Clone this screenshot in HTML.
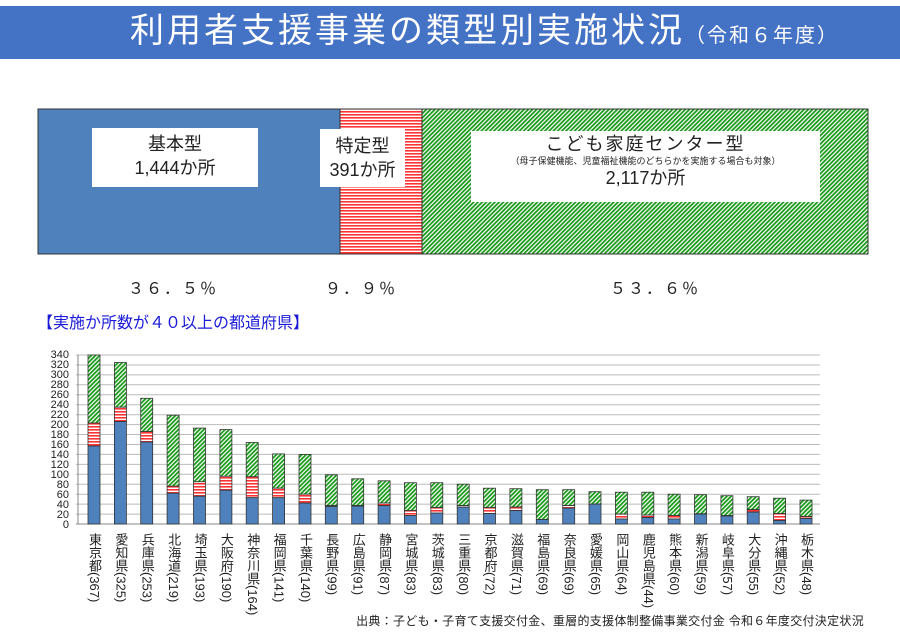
<!DOCTYPE html>
<html><head><meta charset="utf-8"><style>
body{margin:0;background:#fff;}
#w{position:relative;width:900px;height:643px;overflow:hidden;font-family:"Liberation Sans","Noto Sans CJK JP",sans-serif;}
.lb{position:absolute;top:533px;writing-mode:vertical-rl;font-size:13px;line-height:14px;color:#222;width:14px;}
.t{position:absolute;white-space:nowrap;}
</style></head><body><div id="w">
<div style="position:absolute;left:0;top:6px;width:900px;height:53px;background:#4472C4;"></div>
<div class="t" style="left:130px;top:9px;font-size:34px;color:#fff;line-height:44px;letter-spacing:3px;">利用者支援事業の類型別実施状況<span style="font-size:20px;letter-spacing:2px;">（令和６年度）</span></div>
<svg width="900" height="643" style="position:absolute;left:0;top:0">
<defs>
<pattern id="rp" width="3" height="3" patternUnits="userSpaceOnUse"><rect width="3" height="3" fill="#fff"/><rect width="3" height="1.6" fill="#f33"/></pattern>
<pattern id="gp" width="3" height="3" patternUnits="userSpaceOnUse" patternTransform="rotate(45)"><rect width="3" height="3" fill="#fff"/><rect width="1.8" height="3" fill="#1a9a1a"/></pattern>
<pattern id="rp2" width="3" height="3" patternUnits="userSpaceOnUse"><rect width="3" height="3" fill="#fff"/><rect width="3" height="1.6" fill="#f33"/></pattern>
</defs>
<rect x="38" y="109" width="302" height="145" fill="#4F81BD" stroke="#333"/>
<rect x="340" y="109" width="82" height="145" fill="url(#rp)" stroke="#333"/>
<rect x="422" y="109" width="446" height="145" fill="url(#gp)" stroke="#333"/>
<rect x="92" y="128" width="166" height="59" fill="#fff"/>
<rect x="320" y="129" width="85" height="58" fill="#fff"/>
<rect x="471" y="131" width="349" height="71" fill="#fff"/>
<g stroke="#bbb" stroke-width="1">
<line x1="76" x2="820" y1="514.1" y2="514.1"/><line x1="76" x2="820" y1="504.1" y2="504.1"/><line x1="76" x2="820" y1="494.2" y2="494.2"/><line x1="76" x2="820" y1="484.2" y2="484.2"/><line x1="76" x2="820" y1="474.3" y2="474.3"/><line x1="76" x2="820" y1="464.4" y2="464.4"/><line x1="76" x2="820" y1="454.4" y2="454.4"/><line x1="76" x2="820" y1="444.5" y2="444.5"/><line x1="76" x2="820" y1="434.5" y2="434.5"/><line x1="76" x2="820" y1="424.6" y2="424.6"/><line x1="76" x2="820" y1="414.7" y2="414.7"/><line x1="76" x2="820" y1="404.7" y2="404.7"/><line x1="76" x2="820" y1="394.8" y2="394.8"/><line x1="76" x2="820" y1="384.8" y2="384.8"/><line x1="76" x2="820" y1="374.9" y2="374.9"/><line x1="76" x2="820" y1="365" y2="365"/><line x1="76" x2="820" y1="355" y2="355"/>
</g>
<line x1="78" x2="78" y1="355" y2="524" stroke="#888"/>
<line x1="76" x2="820" y1="524" y2="524" stroke="#888"/>
<g font-size="11" fill="#222" text-anchor="end">
<text x="69" y="528">0</text><text x="69" y="518">20</text><text x="69" y="508">40</text><text x="69" y="498">60</text><text x="69" y="488">80</text><text x="69" y="478">100</text><text x="69" y="468">120</text><text x="69" y="458">140</text><text x="69" y="448">160</text><text x="69" y="438">180</text><text x="69" y="428">200</text><text x="69" y="418">220</text><text x="69" y="408">240</text><text x="69" y="398">260</text><text x="69" y="388">280</text><text x="69" y="378">300</text><text x="69" y="368">320</text><text x="69" y="358">340</text>
</g>
<g stroke="#333" stroke-width="0.8">
<rect x="88" y="355" width="12" height="68.1" fill="url(#gp)"/><rect x="88" y="423.1" width="12" height="22.9" fill="url(#rp2)"/><rect x="88" y="446" width="12" height="78" fill="#4F81BD"/>
<rect x="114.4" y="362.5" width="12" height="44.7" fill="url(#gp)"/><rect x="114.4" y="407.2" width="12" height="14.4" fill="url(#rp2)"/><rect x="114.4" y="421.6" width="12" height="102.4" fill="#4F81BD"/>
<rect x="140.7" y="398.3" width="12" height="33.3" fill="url(#gp)"/><rect x="140.7" y="431.6" width="12" height="10.4" fill="url(#rp2)"/><rect x="140.7" y="442" width="12" height="82" fill="#4F81BD"/>
<rect x="167.1" y="415.2" width="12" height="71" fill="url(#gp)"/><rect x="167.1" y="486.2" width="12" height="7" fill="url(#rp2)"/><rect x="167.1" y="493.2" width="12" height="30.8" fill="#4F81BD"/>
<rect x="193.5" y="428.1" width="12" height="53.7" fill="url(#gp)"/><rect x="193.5" y="481.8" width="12" height="14.4" fill="url(#rp2)"/><rect x="193.5" y="496.2" width="12" height="27.8" fill="#4F81BD"/>
<rect x="219.9" y="429.6" width="12" height="46.7" fill="url(#gp)"/><rect x="219.9" y="476.3" width="12" height="13.9" fill="url(#rp2)"/><rect x="219.9" y="490.2" width="12" height="33.8" fill="#4F81BD"/>
<rect x="246.2" y="442.5" width="12" height="34.3" fill="url(#gp)"/><rect x="246.2" y="476.8" width="12" height="20.9" fill="url(#rp2)"/><rect x="246.2" y="497.7" width="12" height="26.3" fill="#4F81BD"/>
<rect x="272.6" y="453.9" width="12" height="34.3" fill="url(#gp)"/><rect x="272.6" y="488.2" width="12" height="9.5" fill="url(#rp2)"/><rect x="272.6" y="497.7" width="12" height="26.3" fill="#4F81BD"/>
<rect x="299" y="454.4" width="12" height="39.8" fill="url(#gp)"/><rect x="299" y="494.2" width="12" height="8.9" fill="url(#rp2)"/><rect x="299" y="503.1" width="12" height="20.9" fill="#4F81BD"/>
<rect x="325.3" y="474.8" width="12" height="30.8" fill="url(#gp)"/><rect x="325.3" y="505.6" width="12" height="1" fill="url(#rp2)"/><rect x="325.3" y="506.6" width="12" height="17.4" fill="#4F81BD"/>
<rect x="351.7" y="478.8" width="12" height="26.8" fill="url(#gp)"/><rect x="351.7" y="505.6" width="12" height="0.5" fill="url(#rp2)"/><rect x="351.7" y="506.1" width="12" height="17.9" fill="#4F81BD"/>
<rect x="378.1" y="480.8" width="12" height="22.3" fill="url(#gp)"/><rect x="378.1" y="503.1" width="12" height="2.5" fill="url(#rp2)"/><rect x="378.1" y="505.6" width="12" height="18.4" fill="#4F81BD"/>
<rect x="404.4" y="482.7" width="12" height="27.9" fill="url(#gp)"/><rect x="404.4" y="510.6" width="12" height="5" fill="url(#rp2)"/><rect x="404.4" y="515.6" width="12" height="8.4" fill="#4F81BD"/>
<rect x="430.8" y="482.7" width="12" height="24.9" fill="url(#gp)"/><rect x="430.8" y="507.6" width="12" height="5.5" fill="url(#rp2)"/><rect x="430.8" y="513.1" width="12" height="10.9" fill="#4F81BD"/>
<rect x="457.2" y="484.2" width="12" height="21.4" fill="url(#gp)"/><rect x="457.2" y="505.6" width="12" height="1.5" fill="url(#rp2)"/><rect x="457.2" y="507.1" width="12" height="16.9" fill="#4F81BD"/>
<rect x="483.5" y="488.2" width="12" height="19.4" fill="url(#gp)"/><rect x="483.5" y="507.6" width="12" height="6" fill="url(#rp2)"/><rect x="483.5" y="513.6" width="12" height="10.4" fill="#4F81BD"/>
<rect x="509.9" y="488.7" width="12" height="18.4" fill="url(#gp)"/><rect x="509.9" y="507.1" width="12" height="3.5" fill="url(#rp2)"/><rect x="509.9" y="510.6" width="12" height="13.4" fill="#4F81BD"/>
<rect x="536.3" y="489.7" width="12" height="29.8" fill="url(#gp)"/><rect x="536.3" y="519.5" width="12" height="4.5" fill="#4F81BD"/>
<rect x="562.7" y="489.7" width="12" height="15.9" fill="url(#gp)"/><rect x="562.7" y="505.6" width="12" height="2.5" fill="url(#rp2)"/><rect x="562.7" y="508.1" width="12" height="15.9" fill="#4F81BD"/>
<rect x="589" y="491.7" width="12" height="12.4" fill="url(#gp)"/><rect x="589" y="504.1" width="12" height="19.9" fill="#4F81BD"/>
<rect x="615.4" y="492.2" width="12" height="21.9" fill="url(#gp)"/><rect x="615.4" y="514.1" width="12" height="4.9" fill="url(#rp2)"/><rect x="615.4" y="519" width="12" height="5" fill="#4F81BD"/>
<rect x="641.8" y="492.2" width="12" height="22.9" fill="url(#gp)"/><rect x="641.8" y="515.1" width="12" height="2.4" fill="url(#rp2)"/><rect x="641.8" y="517.5" width="12" height="6.5" fill="#4F81BD"/>
<rect x="668.1" y="494.2" width="12" height="21.4" fill="url(#gp)"/><rect x="668.1" y="515.6" width="12" height="3.4" fill="url(#rp2)"/><rect x="668.1" y="519" width="12" height="5" fill="#4F81BD"/>
<rect x="694.5" y="494.7" width="12" height="19.1" fill="url(#gp)"/><rect x="694.5" y="513.8" width="12" height="0.3" fill="url(#rp2)"/><rect x="694.5" y="514.1" width="12" height="9.9" fill="#4F81BD"/>
<rect x="720.9" y="495.7" width="12" height="19.9" fill="url(#gp)"/><rect x="720.9" y="515.6" width="12" height="0.4" fill="url(#rp2)"/><rect x="720.9" y="516" width="12" height="8" fill="#4F81BD"/>
<rect x="747.2" y="496.7" width="12" height="12.9" fill="url(#gp)"/><rect x="747.2" y="509.6" width="12" height="2.5" fill="url(#rp2)"/><rect x="747.2" y="512.1" width="12" height="11.9" fill="#4F81BD"/>
<rect x="773.6" y="498.2" width="12" height="15.4" fill="url(#gp)"/><rect x="773.6" y="513.6" width="12" height="6.9" fill="url(#rp2)"/><rect x="773.6" y="520.5" width="12" height="3.5" fill="#4F81BD"/>
<rect x="800" y="500.1" width="12" height="16.4" fill="url(#gp)"/><rect x="800" y="516.5" width="12" height="2" fill="url(#rp2)"/><rect x="800" y="518.5" width="12" height="5.5" fill="#4F81BD"/>
</g>
</svg>
<div class="t" style="left:92px;top:132px;width:166px;text-align:center;font-size:18px;line-height:24px;color:#222;">基本型<br>1,444か所</div>
<div class="t" style="left:320px;top:134px;width:85px;text-align:center;font-size:18px;line-height:24px;color:#222;">特定型<br>391か所</div>
<div class="t" style="left:471px;top:133px;width:349px;text-align:center;font-size:18px;line-height:22px;color:#222;"><span style="letter-spacing:2px;">こども家庭センター型</span><br><span style="font-size:9px;line-height:12px;display:block;">（母子保健機能、児童福祉機能のどちらかを実施する場合も対象）</span>2,117か所</div>
<div class="t" style="left:128px;top:275px;font-size:16px;letter-spacing:2px;color:#222;">３６．５％</div>
<div class="t" style="left:325px;top:275px;font-size:16px;letter-spacing:2px;color:#222;">９．９％</div>
<div class="t" style="left:610px;top:275px;font-size:16px;letter-spacing:2px;color:#222;">５３．６％</div>
<div class="t" style="left:37px;top:309px;font-size:16px;color:#1a1ad8;">【実施か所数が４０以上の都道府県】</div>
<div class="lb" style="left:87px">東京都(367)</div>
<div class="lb" style="left:113.4px">愛知県(325)</div>
<div class="lb" style="left:139.7px">兵庫県(253)</div>
<div class="lb" style="left:166.1px">北海道(219)</div>
<div class="lb" style="left:192.5px">埼玉県(193)</div>
<div class="lb" style="left:218.9px">大阪府(190)</div>
<div class="lb" style="left:245.2px">神奈川県(164)</div>
<div class="lb" style="left:271.6px">福岡県(141)</div>
<div class="lb" style="left:298px">千葉県(140)</div>
<div class="lb" style="left:324.3px">長野県(99)</div>
<div class="lb" style="left:350.7px">広島県(91)</div>
<div class="lb" style="left:377.1px">静岡県(87)</div>
<div class="lb" style="left:403.4px">宮城県(83)</div>
<div class="lb" style="left:429.8px">茨城県(83)</div>
<div class="lb" style="left:456.2px">三重県(80)</div>
<div class="lb" style="left:482.5px">京都府(72)</div>
<div class="lb" style="left:508.9px">滋賀県(71)</div>
<div class="lb" style="left:535.3px">福島県(69)</div>
<div class="lb" style="left:561.7px">奈良県(69)</div>
<div class="lb" style="left:588px">愛媛県(65)</div>
<div class="lb" style="left:614.4px">岡山県(64)</div>
<div class="lb" style="left:640.8px">鹿児島県(44)</div>
<div class="lb" style="left:667.1px">熊本県(60)</div>
<div class="lb" style="left:693.5px">新潟県(59)</div>
<div class="lb" style="left:719.9px">岐阜県(57)</div>
<div class="lb" style="left:746.2px">大分県(55)</div>
<div class="lb" style="left:772.6px">沖縄県(52)</div>
<div class="lb" style="left:799px">栃木県(48)</div>
<div class="t" style="right:36px;top:612px;font-size:12px;letter-spacing:0.3px;color:#222;">出典：子ども・子育て支援交付金、重層的支援体制整備事業交付金 令和６年度交付決定状況</div>
</div></body></html>
